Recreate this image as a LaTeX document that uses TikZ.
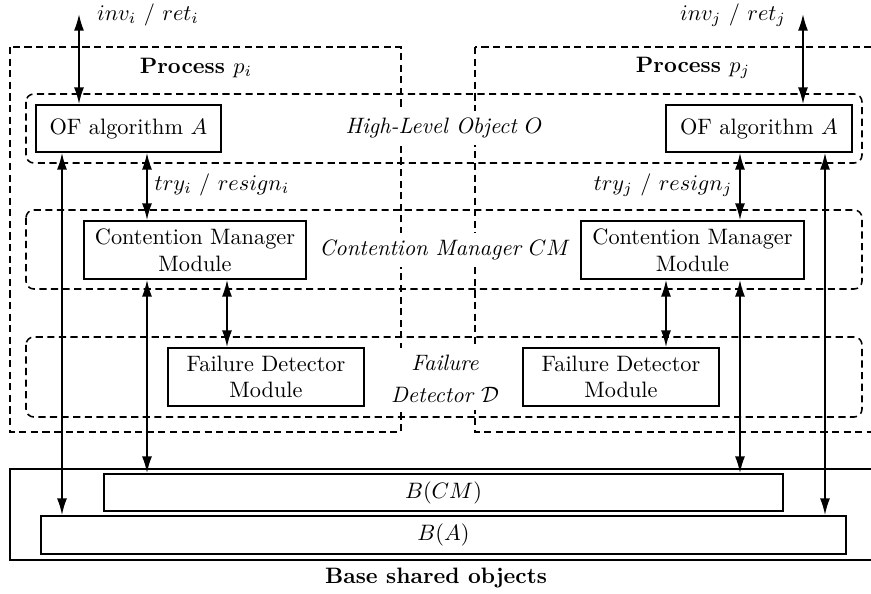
\documentclass[tikz,border=0pt]{standalone}
\usetikzlibrary{arrows.meta}

% one drawing unit of the layout grid
\newcommand{\pxunit}{0.4485pt}

\tikzset{
  x=\pxunit, y=-\pxunit,
  unitbox/.style 2 args={draw, line width=0.8pt, inner sep=0pt, align=center,
    minimum width=#1*\pxunit, minimum height=#2*\pxunit},
  procarea/.style={draw, line width=0.7pt, dash pattern=on 3.2pt off 2pt},
  layerarea/.style={procarea, rounded corners=3.5pt},
  layerlabel/.style={fill=white, font=\itshape, align=center, inner sep=3pt},
  link/.style={line width=0.8pt,
    {Latex[length=7.5pt,width=4.5pt]}-{Latex[length=7.5pt,width=4.5pt]}},
}

\begin{document}
\begin{tikzpicture}
\path[use as bounding box] (0,0) rectangle (871,594);
\clip (0,0) rectangle (871,594);

% process boundaries
\draw[procarea] (10,47) rectangle (401,432);
\draw[procarea] (475,47) rectangle (920,432);

% layers spanning both processes
\draw[layerarea] (26,94) rectangle (862,163);
\draw[layerarea] (26,210) rectangle (862,289);
\draw[layerarea] (26,337) rectangle (862,417);

% layer names
\node[layerlabel] (hlo) at (444,128) {High-Level Object $O$};
\node[layerlabel] (cml) at (445,250) {Contention Manager $CM$};
\node[layerlabel] (fdl) at (445,379) {Failure\\[2.5pt] Detector $\mathcal{D}$};

% process names
\node[font=\bfseries] (pi) at (196,68) {Process $p_i$};
\node[font=\bfseries] (pj) at (693,68) {Process $p_j$};

% modules of process p_i
\node[unitbox={185}{47}] (OFi) at (128.5,128.5) {OF algorithm $A$};
\node[unitbox={222}{58}] (CMi) at (195,250) {Contention Manager\\Module};
\node[unitbox={196}{58}] (FDi) at (266,377) {Failure Detector\\Module};

% modules of process p_j
\node[unitbox={186}{47}] (OFj) at (759,128.5) {OF algorithm $A$};
\node[unitbox={223}{58}] (CMj) at (692.5,250) {Contention Manager\\Module};
\node[unitbox={196}{58}] (FDj) at (621,377) {Failure Detector\\Module};

% base shared objects
\node[unitbox={900}{91}, anchor=north west] (shared) at (9,468) {};
\node[unitbox={679}{37}] (BCM) at (443.5,492.5) {$B(CM)$};
\node[unitbox={805}{38}] (BA) at (443.5,535) {$B(A)$};
\node[font=\bfseries] (sharedlbl) at (436,578) {Base shared objects};

% columns of the connectors
\coordinate (topi) at (79,14);
\coordinate (topj) at (803,14);
\coordinate (ci1) at (62,0);
\coordinate (ci2) at (147,0);
\coordinate (ci3) at (227,0);
\coordinate (cj1) at (825,0);
\coordinate (cj2) at (740,0);
\coordinate (cj3) at (666,0);

% connectors
\draw[link] (topi) -- (OFi.north -| topi);
\draw[link] (topj) -- (OFj.north -| topj);

\draw[link] (OFi.south -| ci1) -- (BA.north -| ci1);
\draw[link] (OFi.south -| ci2) -- (CMi.north -| ci2);
\draw[link] (CMi.south -| ci2) -- (BCM.north -| ci2);
\draw[link] (CMi.south -| ci3) -- (FDi.north -| ci3);

\draw[link] (OFj.south -| cj1) -- (BA.north -| cj1);
\draw[link] (OFj.south -| cj2) -- (CMj.north -| cj2);
\draw[link] (CMj.south -| cj2) -- (BCM.north -| cj2);
\draw[link] (CMj.south -| cj3) -- (FDj.north -| cj3);

% connector labels
\node (invi) at (148,15) {$inv_i$ / $ret_i$};
\node (invj) at (733,15) {$inv_j$ / $ret_j$};
\node (tryi) at (222,185) {$try_i$ / $resign_i$};
\node (tryj) at (663,185) {$try_j$ / $resign_j$};
\end{tikzpicture}
\end{document}
